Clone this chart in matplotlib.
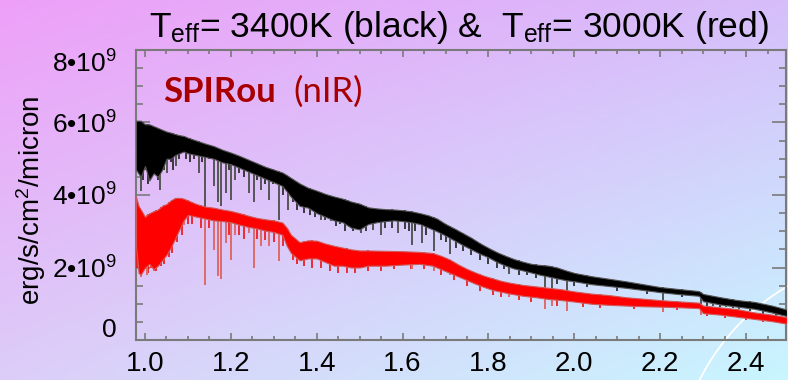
import numpy as np
import matplotlib.pyplot as plt
from matplotlib.patches import Circle
from matplotlib.transforms import IdentityTransform, ScaledTranslation

plt.rcParams['font.family'] = 'Liberation Sans'
plt.rcParams['mathtext.fontset'] = 'custom'
plt.rcParams['mathtext.rm'] = 'Liberation Sans'
plt.rcParams['mathtext.it'] = 'Liberation Sans:italic'

# --- spectra (wavelength in micron, flux in 1e9 erg/s/cm2/micron)
# Teff = 3400K (black): upper / lower edge of the dense line band
black_wl = [0.979, 0.99, 1.00, 1.01, 1.02, 1.03, 1.04, 1.05, 1.06, 1.07, 1.08, 1.09,
            1.10, 1.12, 1.14, 1.16, 1.18, 1.20, 1.22, 1.24, 1.26, 1.28, 1.30, 1.32,
            1.33, 1.34, 1.36, 1.38, 1.40, 1.42, 1.44, 1.46, 1.48, 1.50, 1.52, 1.54,
            1.56, 1.58, 1.60, 1.62, 1.64, 1.66, 1.68, 1.70, 1.72, 1.74, 1.76, 1.78,
            1.80, 1.82, 1.84, 1.86, 1.88, 1.90, 1.92, 1.94, 1.96, 1.98, 2.00, 2.04,
            2.08, 2.12, 2.16, 2.20, 2.24, 2.29, 2.30, 2.34, 2.38, 2.42, 2.46, 2.495]
black_top = [6.05, 6.05, 5.95, 5.95, 5.9, 5.85, 5.8, 5.75, 5.72, 5.68, 5.65, 5.63,
             5.58, 5.5, 5.42, 5.35, 5.25, 5.17, 5.08, 4.98, 4.88, 4.78, 4.7, 4.62,
             4.55, 4.47, 4.32, 4.2, 4.12, 4.03, 3.96, 3.9, 3.82, 3.76, 3.66, 3.63,
             3.61, 3.6, 3.58, 3.55, 3.5, 3.44, 3.35, 3.2, 3.08, 2.95, 2.82, 2.67,
             2.54, 2.42, 2.32, 2.23, 2.16, 2.1, 2.07, 2.05, 2.0, 1.92, 1.85, 1.76,
             1.69, 1.62, 1.54, 1.46, 1.41, 1.35, 1.27, 1.18, 1.1, 1.05, 0.95, 0.84]
black_bot = [4.7, 4.5, 4.8, 4.4, 4.6, 4.5, 4.7, 5.0, 5.0, 5.1, 5.15, 5.2,
             5.15, 5.1, 5.05, 5.0, 4.9, 4.85, 4.75, 4.65, 4.55, 4.45, 4.35, 4.25,
             4.1, 3.95, 3.7, 3.65, 3.5, 3.4, 3.3, 3.25, 3.1, 3.05, 3.2, 3.25,
             3.28, 3.3, 3.28, 3.25, 3.2, 3.1, 3.0, 2.88, 2.75, 2.62, 2.5, 2.38,
             2.28, 2.15, 2.05, 1.97, 1.92, 1.86, 1.8, 1.75, 1.7, 1.65, 1.62, 1.54,
             1.49, 1.44, 1.38, 1.32, 1.27, 1.22, 1.07, 0.98, 0.92, 0.86, 0.76, 0.66]

# Teff = 3000K (red)
red_wl = [0.979, 0.985, 0.99, 1.00, 1.01, 1.02, 1.03, 1.04, 1.05, 1.06, 1.07, 1.08,
          1.09, 1.10, 1.12, 1.14, 1.16, 1.18, 1.20, 1.22, 1.24, 1.26, 1.28, 1.30,
          1.32, 1.33, 1.34, 1.36, 1.38, 1.40, 1.42, 1.44, 1.46, 1.48, 1.50, 1.52,
          1.56, 1.60, 1.64, 1.67, 1.69, 1.71, 1.73, 1.75, 1.77, 1.79, 1.81, 1.83,
          1.85, 1.88, 1.91, 1.94, 1.97, 2.00, 2.04, 2.08, 2.12, 2.16, 2.20, 2.25,
          2.29, 2.30, 2.34, 2.38, 2.42, 2.46, 2.495]
red_top = [3.95, 3.7, 3.6, 3.4, 3.5, 3.55, 3.6, 3.7, 3.75, 3.85, 3.92, 3.92,
           3.9, 3.85, 3.75, 3.68, 3.65, 3.6, 3.56, 3.5, 3.43, 3.37, 3.33, 3.3,
           3.24, 3.1, 2.9, 2.7, 2.75, 2.74, 2.66, 2.6, 2.55, 2.5, 2.47, 2.47,
           2.46, 2.45, 2.43, 2.4, 2.32, 2.22, 2.08, 1.96, 1.86, 1.77, 1.7, 1.63,
           1.58, 1.52, 1.48, 1.44, 1.4, 1.34, 1.28, 1.24, 1.18, 1.14, 1.1, 1.06,
           1.03, 0.95, 0.9, 0.85, 0.76, 0.7, 0.63]
red_bot = [2.6, 1.85, 1.8, 2.0, 2.1, 1.95, 2.05, 2.2, 2.35, 2.55, 2.8, 3.05,
           3.3, 3.45, 3.4, 3.35, 3.3, 3.28, 3.25, 3.18, 3.12, 3.08, 3.02, 2.98,
           2.9, 2.6, 2.4, 2.2, 2.25, 2.25, 2.15, 2.05, 2.05, 2.0, 2.0, 2.05,
           2.05, 2.08, 2.1, 2.05, 1.95, 1.85, 1.75, 1.65, 1.55, 1.46, 1.38, 1.33,
           1.28, 1.22, 1.18, 1.13, 1.1, 1.06, 1.0, 0.97, 0.95, 0.93, 0.92, 0.9,
           0.88, 0.74, 0.7, 0.64, 0.58, 0.52, 0.45]

# strongest absorption lines: wavelength and flux at line core
black_lines_wl = [0.991, 1.035, 1.052, 1.072, 1.126, 1.140, 1.161, 1.169, 1.178, 1.188,
                  1.200, 1.209, 1.243, 1.254, 1.270, 1.289, 1.312, 1.332, 1.410, 1.433,
                  1.472, 1.503, 1.530, 1.549, 1.590, 1.622, 1.645, 1.672, 1.711, 1.848,
                  1.932, 1.948, 1.983, 2.207, 2.294, 2.323, 2.353, 2.383]
black_lines_min = [4.1, 4.15, 4.6, 4.8, 4.6, 3.5, 4.25, 3.8, 3.7, 4.05,
                   3.85, 4.4, 4.05, 3.8, 4.15, 3.85, 3.3, 3.6, 3.32, 3.27,
                   3.2, 2.95, 3.04, 2.9, 2.95, 2.63, 2.67, 2.45, 2.36, 1.81,
                   1.4, 1.4, 1.31, 1.08, 0.99, 0.95, 0.9, 0.85]
red_lines_wl = [0.99, 1.005, 1.02, 1.09, 1.140, 1.161, 1.169, 1.178, 1.188, 1.200,
                1.209, 1.243, 1.254, 1.270, 1.289, 1.312, 1.332, 1.622, 1.672, 1.711,
                1.848, 1.932, 1.948, 1.983, 2.207, 2.294]
red_lines_min = [1.75, 1.8, 1.9, 3.18, 1.53, 2.49, 1.76, 1.67, 2.68, 2.22,
                 2.9, 2.96, 2.0, 2.58, 2.58, 2.17, 2.71, 1.95, 1.9, 1.8,
                 1.2, 0.85, 0.95, 0.8, 0.76, 0.7]

# weaker lines that give the band its ragged lower edge
black_weak_wl = [0.985, 0.995, 1.003, 1.008, 1.015, 1.025, 1.030, 1.045, 1.060, 1.065,
                 1.080, 1.095, 1.105, 1.115, 1.133, 1.150, 1.195, 1.220, 1.230, 1.262,
                 1.280, 1.298, 1.322, 1.345, 1.355, 1.370, 1.385, 1.395, 1.420, 1.445,
                 1.455, 1.465, 1.485, 1.495, 1.515, 1.560, 1.575, 1.605, 1.615, 1.630,
                 1.655, 1.690, 1.700, 1.725, 1.740, 1.760, 1.780, 1.800, 1.820, 1.835,
                 1.870, 1.890, 1.910, 1.960, 2.000, 2.030, 2.100, 2.170, 2.250, 2.310,
                 2.340, 2.370, 2.410, 2.440, 2.470]
black_weak_min = [4.6, 4.4, 4.7, 4.3, 4.5, 4.6, 4.4, 4.7, 4.9, 4.7,
                  5.0, 5.0, 4.9, 5.0, 4.9, 5.0, 4.7, 4.6, 4.5, 4.4,
                  4.3, 4.3, 4.0, 3.8, 3.6, 3.5, 3.45, 3.4, 3.3, 3.15,
                  3.2, 3.0, 3.0, 3.05, 3.0, 3.1, 3.1, 3.05, 3.0, 3.0,
                  2.9, 2.75, 2.7, 2.55, 2.45, 2.35, 2.2, 2.1, 2.0, 1.95,
                  1.8, 1.78, 1.7, 1.55, 1.5, 1.45, 1.35, 1.28, 1.18, 0.95,
                  0.92, 0.88, 0.8, 0.72, 0.65]
red_weak_wl = [0.982, 0.988, 0.995, 1.000, 1.008, 1.013, 1.025, 1.032, 1.038, 1.045,
               1.055, 1.062, 1.075, 1.085, 1.100, 1.110, 1.130, 1.150, 1.195, 1.220,
               1.230, 1.262, 1.280, 1.300, 1.322, 1.345, 1.355, 1.370, 1.390, 1.410,
               1.430, 1.450, 1.470, 1.490, 1.520, 1.550, 1.580, 1.620, 1.650, 1.690,
               1.720, 1.750, 1.780, 1.810, 1.830, 1.870, 1.900, 1.960, 2.020, 2.060,
               2.140, 2.240, 2.310, 2.350, 2.400, 2.440]
red_weak_min = [2.0, 1.9, 2.1, 1.95, 1.85, 2.0, 1.9, 2.1, 2.05, 2.1,
                2.3, 2.4, 2.7, 2.9, 3.2, 3.2, 3.1, 3.1, 2.9, 2.9,
                2.8, 2.8, 2.75, 2.7, 2.6, 2.2, 2.1, 2.05, 2.0, 2.0,
                1.9, 1.85, 1.85, 1.85, 1.9, 1.9, 1.95, 1.95, 1.95, 1.8,
                1.65, 1.5, 1.35, 1.25, 1.2, 1.1, 1.05, 0.95, 0.92, 0.88,
                0.85, 0.82, 0.65, 0.6, 0.55, 0.5]

xticks = [1.0, 1.2, 1.4, 1.6, 1.8, 2.0, 2.2, 2.4]
yticks = [0, 2e9, 4e9, 6e9, 8e9]
ytick_labels = ['0', '2•10$^9$', '4•10$^9$', '6•10$^9$', '8•10$^9$']

fig = plt.figure(figsize=(7.88, 3.8), dpi=100)

# gradient background (pink top-left -> pale cyan bottom-right)
bg = fig.add_axes([0, 0, 1, 1], zorder=-10)
tl = np.array([238, 160, 248]) / 255
tr = np.array([214, 190, 250]) / 255
bl = np.array([220, 205, 248]) / 255
br = np.array([200, 246, 255]) / 255
u = np.linspace(0, 1, 200)[None, :, None]
v = np.linspace(0, 1, 100)[:, None, None]
img = (1 - v) * ((1 - u) * tl + u * tr) + v * ((1 - u) * bl + u * br)
bg.imshow(img, extent=[0, 1, 0, 1], aspect='auto', origin='upper')
bg.axis('off')

# white arc in the lower right corner
fig.add_artist(Circle((900, -100), 224, transform=IdentityTransform(), fill=False,
                      ec='white', lw=1.3, zorder=-5))

ax = fig.add_axes([136 / 788, 1 - 340 / 380, 650 / 788, 290 / 380])
ax.patch.set_alpha(0)

sc = 1e9
bw = np.array(black_wl)
rw = np.array(red_wl)


def draw_lines(wl, lo, band_wl, band_top, color, lw, z):
    ax.vlines(wl, np.array(lo) * sc, np.interp(wl, band_wl, band_top) * sc,
              color=color, lw=lw, zorder=z)


draw_lines(black_weak_wl, black_weak_min, bw, black_top, '#202020', 1.2, 2)
draw_lines(black_lines_wl, black_lines_min, bw, black_top, '#555555', 1.4, 2)
ax.fill_between(bw, np.array(black_bot) * sc, np.array(black_top) * sc,
                fc='black', ec='#555555', lw=0.8, zorder=3)
draw_lines(red_weak_wl, red_weak_min, rw, red_top, '#f01010', 1.2, 4)
draw_lines(red_lines_wl, red_lines_min, rw, red_top, '#e06a6a', 1.4, 4)
ax.fill_between(rw, np.array(red_bot) * sc, np.array(red_top) * sc,
                fc='#ff0000', ec='#d05a5a', lw=0.8, zorder=5)

ax.set_xlim(0.979, 2.493)
ax.set_ylim(0, 8e9)
ax.set_xticks(xticks)
ax.set_xticklabels([f'{t:.1f}' for t in xticks])
ax.set_xticks(np.arange(1.0, 2.5, 0.05), minor=True)
ax.set_yticks(yticks)
ax.set_yticklabels(ytick_labels)
ax.set_yticks(np.arange(0, 8e9, 0.5e9), minor=True)

for s in ax.spines.values():
    s.set_color('#7a7a7a')
    s.set_linewidth(1.5)
ax.tick_params(which='both', direction='in', top=True, right=True, color='#7a7a7a',
               width=1.2, labelsize=20)
ax.tick_params(axis='x', which='major', length=5, pad=8)
ax.tick_params(axis='x', which='minor', length=3)
ax.tick_params(axis='y', which='major', length=10, pad=14, labelsize=19)
ax.tick_params(axis='y', which='minor', length=5)

# nudge the end labels like the original
ylabs = ax.get_yticklabels()
ylabs[0].set_transform(ylabs[0].get_transform() + ScaledTranslation(0, 9 / 72, fig.dpi_scale_trans))
ylabs[-1].set_transform(ylabs[-1].get_transform() + ScaledTranslation(0, -8 / 72, fig.dpi_scale_trans))

fig.text(31 / 788, 1 - 200 / 380, 'erg/s/cm$^2$/micron', rotation=90,
         ha='center', va='center', fontsize=20)
fig.text(459 / 788, 1 - 37 / 380,
         'T$_{\\mathrm{eff}}$= 3400K (black) &  T$_{\\mathrm{eff}}$= 3000K (red)',
         ha='center', va='baseline', fontsize=25.5)
fig.text(163 / 788, 1 - 102 / 380, 'SPIRou', color='#a80000', fontsize=25,
         fontweight='bold', family='Lato', va='baseline')
fig.text(293 / 788, 1 - 102 / 380, '(nIR)', color='#a80000', fontsize=25,
         family='Lato', va='baseline')

fig.savefig('out.png', dpi=100)
